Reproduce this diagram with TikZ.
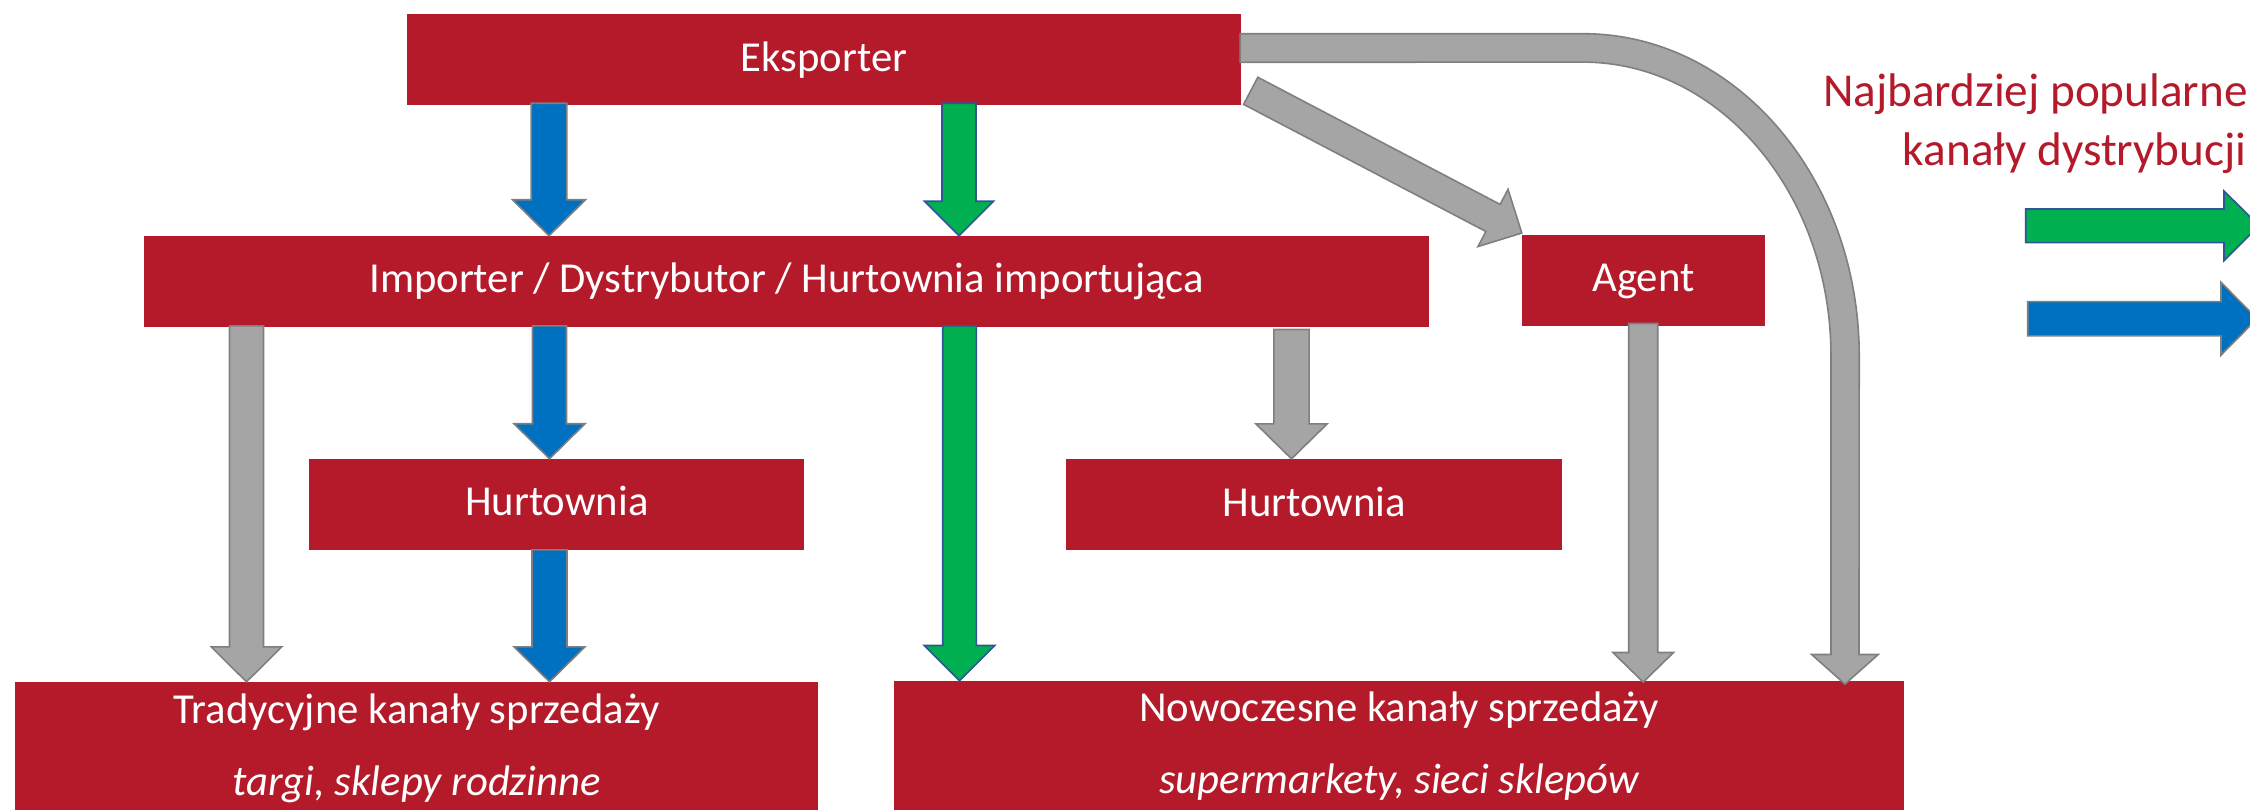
\documentclass[tikz,border=0pt]{standalone}
\usepackage{fontspec}
\setmainfont{Carlito}
\usetikzlibrary{calc}
\definecolor{boxred}{HTML}{B41A2A}
\definecolor{agray}{HTML}{A5A5A5}
\definecolor{agrayline}{HTML}{7F7F7F}
\definecolor{ablue}{HTML}{0070C0}
\definecolor{agreen}{HTML}{00B050}
\definecolor{agreenline}{HTML}{2F5597}
\newcommand\bxfont{\fontsize{42.7pt}{50pt}\selectfont}
\newcommand\lgfont{\fontsize{47.2pt}{55pt}\selectfont}
% block arrow: style, from, to, half shaft, half head, head length
\newcommand\blockarrow[6]{%
  \path[#1] let \p1=(#2), \p2=(#3),
      \n1={atan2(\y2-\y1,\x2-\x1)}, \n2={veclen(\x2-\x1,\y2-\y1)} in
    ($(\p1)+({\n1+90}:#4)$)
    -- ($(\p1)+({\n1}:{\n2-#6})+({\n1+90}:#4)$)
    -- ($(\p1)+({\n1}:{\n2-#6})+({\n1+90}:#5)$)
    -- (\p2)
    -- ($(\p1)+({\n1}:{\n2-#6})+({\n1-90}:#5)$)
    -- ($(\p1)+({\n1}:{\n2-#6})+({\n1-90}:#4)$)
    -- ($(\p1)+({\n1-90}:#4)$)
    -- cycle;}
\begin{document}
\begin{tikzpicture}[x=1pt,y=-1pt,
  rbox/.style={fill=boxred, text=white, inner sep=0pt, font=\bxfont,
    text height=31pt, text depth=8pt},
  btxt/.style={text=white, inner sep=0pt, font=\bxfont, anchor=base},
  legtxt/.style={text=boxred, inner sep=0pt, font=\lgfont},
  garrow/.style={fill=agray, draw=agrayline, line width=1.6pt, line join=miter},
  barrow/.style={fill=ablue, draw=agrayline, line width=1.6pt, line join=miter},
  gnarrow/.style={fill=agreen, draw=agreenline, line width=1.6pt, line join=miter}]
\useasboundingbox (0,0) rectangle (2250,809);
\clip (0,0) rectangle (2250,809);

% boxes
\node[rbox, minimum width=834pt, minimum height=91pt] (exp) at (824,59.5) {Eksporter};
\node[rbox, minimum width=1284.7pt, minimum height=90.7pt] (imp) at (786.7,281.3) {Importer / Dystrybutor / Hurtownia importująca};
\node[rbox, minimum width=243pt, minimum height=90.7pt] (agent) at (1643.5,280.3) {Agent};
\node[rbox, minimum width=495pt, minimum height=90.7pt] (hurt1) at (556.8,504.3) {Hurtownia};
\node[rbox, minimum width=495.7pt, minimum height=91pt] (hurt2) at (1314.2,504.5) {Hurtownia};
\node[rbox, minimum width=803.4pt, minimum height=148pt] (trad) at (416.7,756) {};
\node[rbox, minimum width=1010.1pt, minimum height=149pt] (now) at (1398.95,755.5) {};
\node[btxt] (trad1) at (416.7,723.3) {Tradycyjne kanały sprzedaży};
\node[btxt] (trad2) at (416.7,795) {\itshape targi, sklepy rodzinne};
\node[btxt] (now1) at (1399,721.7) {Nowoczesne kanały sprzedaży};
\node[btxt] (now2) at (1399,793.3) {\itshape supermarkety, sieci sklepów};

% legend
\node[legtxt, anchor=base east] (leg1) at (2248,106.7) {Najbardziej popularne};
\node[legtxt, anchor=base east] (leg2) at (2246.7,165) {kanały dystrybucji};
\coordinate (lgA) at (2025.7,225.8);
\coordinate (lgAt) at (2259,225.8);
\coordinate (lgB) at (2027.7,318.7);
\coordinate (lgBt) at (2257,318.7);
\blockarrow{gnarrow}{lgA}{lgAt}{16.85pt}{34.85pt}{35pt}
\blockarrow{barrow}{lgB}{lgBt}{17.15pt}{36.4pt}{36pt}

% arrows
\blockarrow{barrow}{[xshift=-275pt,yshift=2pt]exp.south}{[xshift=-237.7pt]imp.north}{17.8pt}{36.5pt}{36pt}
\blockarrow{gnarrow}{[xshift=135pt,yshift=2pt]exp.south}{[xshift=172.3pt]imp.north}{17pt}{34.5pt}{34.5pt}
\blockarrow{garrow}{[xshift=-540.2pt,yshift=1pt]imp.south}{[xshift=-170.2pt]trad.north}{17pt}{35.3pt}{35pt}
\blockarrow{barrow}{[xshift=-237.2pt,yshift=1pt]imp.south}{[xshift=-7.3pt]hurt1.north}{17pt}{35.5pt}{35pt}
\blockarrow{gnarrow}{[xshift=172.8pt,yshift=1pt]imp.south}{[xshift=-439.45pt]now.north}{16.8pt}{35.2pt}{35.3pt}
\blockarrow{garrow}{[xshift=504.8pt,yshift=-2.6pt]imp.south}{[xshift=-22.7pt]hurt2.north}{17.6pt}{35.7pt}{35pt}
\blockarrow{barrow}{[xshift=-7.3pt]hurt1.south}{[xshift=132.8pt]trad.north}{17.5pt}{35.5pt}{35pt}
\blockarrow{garrow}{[xshift=-0.3pt,yshift=2.4pt]agent.south}{[xshift=244.25pt,yshift=-1.3pt]now.north}{14.5pt}{30.3pt}{29.6pt}
\blockarrow{garrow}{[xshift=9.5pt,yshift=-31.3pt]exp.east}{[yshift=1.7pt]agent.north west}{15.3pt}{32.3pt}{32.5pt}

% curved arrow Eksporter -> Nowoczesne
\path[garrow] ($(exp.east)+(-1,-25.8)$) -- ($(exp.east)+(342,-25.8)$)
  arc[start angle=90,end angle=0,x radius=276pt,y radius=322.3pt]
  -- ($(now.north)+(460,-26.3)$) -- ($(now.north)+(479.3,-26.3)$)
  -- ($(now.north)+(446,3.3)$)
  -- ($(now.north)+(412.7,-26.3)$) -- ($(now.north)+(432,-26.3)$)
  -- ++(0,-298.7)
  arc[start angle=0,end angle=90,x radius=248pt,y radius=293.7pt]
  -- ($(exp.east)+(-1,2.8)$) -- cycle;
\end{tikzpicture}
\end{document}
